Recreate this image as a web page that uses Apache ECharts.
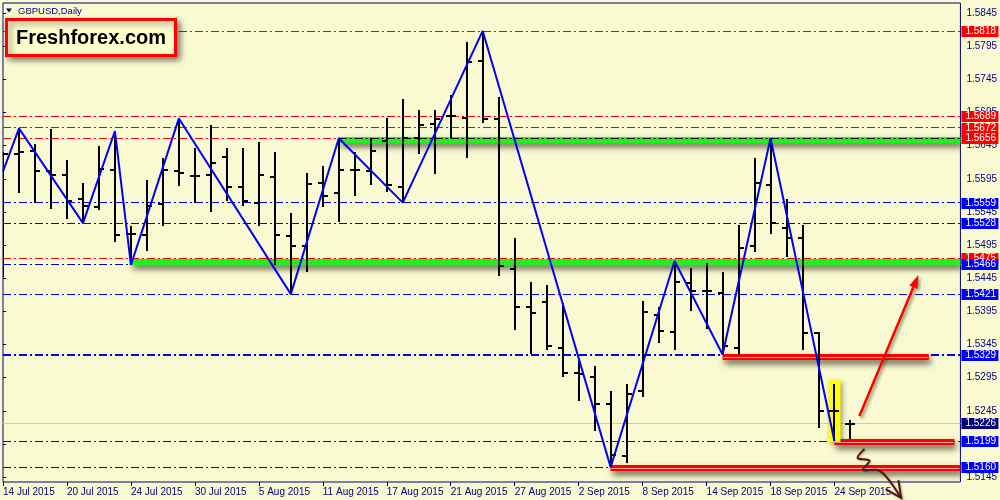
<!DOCTYPE html>
<html>
<head>
<meta charset="utf-8">
<script src="https://cdn.jsdelivr.net/npm/echarts/dist/echarts.min.js"></script>
<style>
html,body{margin:0;padding:0;background:#FAFAD2;}
#chart{width:1000px;height:500px;}
</style>
</head>
<body>
<div id="chart"></div>
<script>
// ---------- data ----------
const dates = ['14 Jul 2015','15 Jul 2015','16 Jul 2015','17 Jul 2015','20 Jul 2015','21 Jul 2015','22 Jul 2015','23 Jul 2015','24 Jul 2015','27 Jul 2015','28 Jul 2015','29 Jul 2015','30 Jul 2015','31 Jul 2015',
 '3 Aug 2015','4 Aug 2015','5 Aug 2015','6 Aug 2015','7 Aug 2015','10 Aug 2015','11 Aug 2015','12 Aug 2015','13 Aug 2015','14 Aug 2015','17 Aug 2015','18 Aug 2015','19 Aug 2015','20 Aug 2015','21 Aug 2015','24 Aug 2015','25 Aug 2015','26 Aug 2015','27 Aug 2015','28 Aug 2015','31 Aug 2015',
 '1 Sep 2015','2 Sep 2015','3 Sep 2015','4 Sep 2015','7 Sep 2015','8 Sep 2015','9 Sep 2015','10 Sep 2015','11 Sep 2015','14 Sep 2015','15 Sep 2015','16 Sep 2015','17 Sep 2015','18 Sep 2015','21 Sep 2015','22 Sep 2015','23 Sep 2015','24 Sep 2015','25 Sep 2015'];
const opens  = [1.5510,1.5633,1.5637,1.5607,1.5601,1.5564,1.5552,1.5608,1.5512,1.5510,1.5557,1.5606,1.5599,1.5601,1.5628,1.5583,1.5559,1.5597,1.5508,1.5494,1.5589,1.5574,1.5608,1.5607,1.5652,1.5583,1.5656,1.5678,1.5689,1.5687,1.5772,1.5685,1.5459,1.5401,1.5409,1.5340,1.5302,1.5296,1.5255,1.5177,1.5275,1.5390,1.5364,1.5438,1.5426,1.5423,1.5339,1.5494,1.5585,1.5521,1.5506,1.5363,1.5244,1.5225];
const highs  = [1.5636,1.5671,1.5647,1.5670,1.5624,1.5588,1.5644,1.5667,1.5523,1.5593,1.5626,1.5686,1.5641,1.5676,1.5642,1.5641,1.5650,1.5635,1.5543,1.5603,1.5614,1.5656,1.5635,1.5657,1.5687,1.5715,1.5699,1.5699,1.5721,1.5801,1.5818,1.5719,1.5505,1.5440,1.5434,1.5407,1.5323,1.5312,1.5275,1.5285,1.5410,1.5402,1.5471,1.5460,1.5468,1.5454,1.5525,1.5626,1.5656,1.5564,1.5526,1.5364,1.5286,1.5231];
const lows   = [1.5447,1.5574,1.5558,1.5550,1.5535,1.5528,1.5548,1.5499,1.5465,1.5486,1.5524,1.5584,1.5558,1.5545,1.5562,1.5554,1.5523,1.5465,1.5421,1.5455,1.5552,1.5530,1.5569,1.5586,1.5575,1.5559,1.5632,1.5602,1.5656,1.5627,1.5679,1.5449,1.5367,1.5331,1.5337,1.5296,1.5260,1.5215,1.5160,1.5167,1.5266,1.5347,1.5337,1.5396,1.5369,1.5330,1.5329,1.5484,1.5511,1.5477,1.5337,1.5219,1.5199,1.5202];
const closes = [1.5633,1.5636,1.5607,1.5601,1.5562,1.5554,1.5610,1.5510,1.5512,1.5554,1.5608,1.5604,1.5599,1.5619,1.5582,1.5562,1.5600,1.5510,1.5493,1.5587,1.5569,1.5608,1.5608,1.5637,1.5585,1.5656,1.5676,1.5685,1.5689,1.5771,1.5685,1.5464,1.5401,1.5392,1.5343,1.5302,1.5300,1.5255,1.5178,1.5270,1.5394,1.5366,1.5440,1.5426,1.5426,1.5342,1.5490,1.5588,1.5529,1.5505,1.5363,1.5244,1.5244,1.5225];

// zigzag pivots [bar index, price]
const zigzag = [[0,1.5606],[1,1.5671],[5,1.5528],[7,1.5667],[8,1.5465],[11,1.5686],[18,1.5421],[21,1.5656],[25,1.5559],[30,1.5818],[38,1.5160],[42,1.5471],[45,1.5330],[48,1.5656],[52,1.5199]];

// horizontal levels
const redLevels   = [1.5818, 1.5689, 1.5672, 1.5656, 1.5475];
const blueLevels  = [1.5559, 1.5528, 1.5466, 1.5421, 1.5199, 1.5160];
const strongLevel = [1.5329];
const currentPrice = [1.5226];

// zones: [start index, end index (null = right edge), price]
const greenZones = [[21, null, 1.5654], [8, null, 1.5469]];
const redZones   = [[45, 57.9, 1.5326], [52, 59.5, 1.5198], [38, null, 1.5158]];
const highlightBar = [[52, 1.5199, 1.5291]];

// hand-drawn arrows in [bar index, price]
const trendArrow = [[53.56, 1.5237], [57.25, 1.5450]];
const breakArrow = [[53.875,1.51874],[53.44,1.51738],[54.19,1.51697],[53.77,1.51557],[54.69,1.51557],[55.31,1.51436],[56.17,1.51135]];

const xTicks = [0,4,8,12,16,20,24,28,32,36,40,44,48,52];
const yTicks = [1.5145,1.5195,1.5245,1.5295,1.5345,1.5395,1.5445,1.5495,1.5545,1.5595,1.5645,1.5695,1.5745,1.5795,1.5845];

// ---------- styles ----------
const BG = '#FAFAD2', NAVY = '#000080', FONT = '"Liberation Sans", Arial, sans-serif';
const DASHDOT = [8,3,2,3];

const chart = echarts.init(document.getElementById('chart'), null, {renderer:'canvas'});

const bars = opens.map((o,i)=>[i,o,highs[i],lows[i],closes[i]]);

function levelMarks(levels, color, width){
  return levels.map(p=>({yAxis:p, lineStyle:{color:color, width:width, type:DASHDOT}}));
}

// price tags on the right
const tagList = [];
redLevels.forEach(p=>tagList.push([0,p,'#FF0000']));
blueLevels.forEach(p=>tagList.push([0,p,'#0000FF']));
strongLevel.forEach(p=>tagList.push([0,p,'#0000FF']));
currentPrice.forEach(p=>tagList.push([0,p,NAVY]));

function zoneSeries(zones, fill, inner, z){
  return {
    type:'custom', z:z, clip:true, silent:true,
    data: zones.map(zn=>[zn[0], zn[1]===null ? -1 : zn[1], zn[2]]),
    encode:{x:0,y:2},
    renderItem(params, api){
      const cs = params.coordSys;
      const a = api.coord([api.value(0), api.value(2)]);
      const endIdx = api.value(1);
      const x2 = endIdx < 0 ? cs.x+cs.width : api.coord([endIdx, api.value(2)])[0];
      const y = Math.round(a[1]);
      const ch = [{type:'rect', shape:{x:a[0], y:y-3, width:x2-a[0], height:6},
        style:{fill:fill, shadowBlur:6, shadowColor:'rgba(40,40,20,0.75)', shadowOffsetX:2, shadowOffsetY:4}}];
      if (inner) ch.push({type:'line', shape:{x1:a[0]+1, y1:y+0.5, x2:x2-1, y2:y+0.5}, style:{stroke:inner, lineWidth:1}});
      return {type:'group', children:ch};
    }
  };
}

function arrowHead(tip, from, len, ang){
  const dx = from[0]-tip[0], dy = from[1]-tip[1];
  const d = Math.hypot(dx,dy); const ux = dx/d, uy = dy/d;
  const rot = (t)=>[tip[0]+len*(ux*Math.cos(t)-uy*Math.sin(t)), tip[1]+len*(ux*Math.sin(t)+uy*Math.cos(t))];
  return [rot(ang), rot(-ang)];
}

const option = {
  backgroundColor: BG,
  animation:false,
  grid:{left:3, right:39, top:3, bottom:18, show:true, borderColor:NAVY, borderWidth:1, backgroundColor:BG},
  xAxis:{
    type:'value', min:0, max:59.875,
    axisLine:{show:false}, splitLine:{show:false},
    axisTick:{show:true, length:4, lineStyle:{color:NAVY}, customValues:xTicks},
    axisLabel:{customValues:xTicks, align:'left', margin:5, color:NAVY, fontFamily:FONT, fontSize:10,
      formatter:(v)=> dates[v] !== undefined ? dates[v] : ''}
  },
  yAxis:{
    type:'value', position:'right', min:1.51376, max:1.58601, scale:true,
    axisLine:{show:false}, splitLine:{show:false},
    axisTick:{show:true, length:3, lineStyle:{color:NAVY}, customValues:yTicks},
    axisLabel:{customValues:yTicks, margin:6, color:NAVY, fontFamily:FONT, fontSize:10,
      formatter:(v)=>v.toFixed(4)}
  },
  graphic:[
    {type:'polygon', shape:{points:[[6,8.5],[12,8.5],[9,12.5]]}, style:{fill:NAVY}, z:100},
    {type:'text', x:18, y:11, style:{text:'GBPUSD,Daily', fill:NAVY, font:'9.5px '+FONT, verticalAlign:'middle'}, z:100},
    {type:'rect', shape:{x:6.5, y:19.5, width:169, height:36}, z:100,
      style:{fill:'#FFFFCC', stroke:'#FF0000', lineWidth:3, shadowBlur:6, shadowColor:'rgba(0,0,0,0.45)', shadowOffsetX:3, shadowOffsetY:3}},
    {type:'text', x:91, y:38, z:101, style:{text:'Freshforex.com', fill:'#000', font:'bold 20px '+FONT, align:'center', verticalAlign:'middle'}}
  ],
  series:[
    {
      type:'line', data:[], z:1, silent:true,
      markLine:{
        silent:true, symbol:'none', animation:false, label:{show:false}, precision:6, z:1,
        data:[].concat(
          currentPrice.map(p=>({yAxis:p, lineStyle:{color:'#C8C8C8', width:1, type:'solid'}})),
          levelMarks(redLevels, '#FF0000', 1),
          levelMarks(blueLevels, '#0000FF', 1),
          levelMarks(strongLevel, '#0000FF', 2)
        )
      }
    },
    zoneSeries(greenZones, '#22EE22', null, 3),
    zoneSeries(redZones, '#FF0000', '#FFA0A0', 3),
    {
      type:'custom', z:3, clip:true, silent:true,
      data: greenZones.slice(0,1).map(zn=>[zn[0], zn[2]]), encode:{x:0,y:1},
      renderItem(params, api){
        const cs = params.coordSys;
        const a = api.coord([api.value(0), redLevels[3]]);
        const y = Math.round(a[1]) + 0.5;
        return {type:'line', shape:{x1:a[0], y1:y, x2:cs.x+cs.width, y2:y}, style:{stroke:'#000', lineWidth:1, lineDash:DASHDOT}};
      }
    },
    {
      type:'custom', z:3, clip:true, silent:true,
      data: highlightBar, encode:{x:0,y:[1,2]},
      renderItem(params, api){
        const lo = api.coord([api.value(0), api.value(1)]);
        const hi = api.coord([api.value(0), api.value(2)]);
        return {type:'rect', shape:{x:lo[0]-6, y:hi[1], width:12, height:lo[1]-hi[1]+1},
          style:{fill:'#FFFF00', shadowBlur:5, shadowColor:'rgba(60,60,30,0.5)', shadowOffsetX:2, shadowOffsetY:2}};
      }
    },
    {
      type:'custom', name:'GBPUSD', z:4, clip:true, silent:true,
      data: bars, encode:{x:0, y:[1,2,3,4]},
      renderItem(params, api){
        const i = api.value(0);
        const o = api.coord([i, api.value(1)]);
        const h = api.coord([i, api.value(2)]);
        const l = api.coord([i, api.value(3)]);
        const c = api.coord([i, api.value(4)]);
        const x = Math.round(o[0]);
        const st = {stroke:'#000', lineWidth:2};
        const oy = Math.round(o[1]), cy = Math.round(c[1]);
        return {type:'group', children:[
          {type:'line', shape:{x1:x, y1:Math.round(h[1]), x2:x, y2:Math.round(l[1])}, style:st},
          {type:'line', shape:{x1:x-5, y1:oy, x2:x, y2:oy}, style:st},
          {type:'line', shape:{x1:x, y1:cy, x2:x+5, y2:cy}, style:st}
        ]};
      }
    },
    {
      type:'line', z:5, data:zigzag, symbol:'none', clip:true, silent:true,
      lineStyle:{color:'#0000FF', width:2}
    },
    {
      type:'custom', z:6, clip:false, silent:true, data:[trendArrow[0]], encode:{x:0,y:1},
      renderItem(params, api){
        const a = api.coord(trendArrow[0]), b = api.coord(trendArrow[1]);
        const hd = arrowHead(b, a, 14, 0.32);
        const sh = {shadowBlur:3, shadowColor:'rgba(60,60,30,0.55)', shadowOffsetX:2, shadowOffsetY:2};
        return {type:'group', children:[
          {type:'line', shape:{x1:a[0], y1:a[1], x2:(hd[0][0]+hd[1][0])/2, y2:(hd[0][1]+hd[1][1])/2}, style:Object.assign({stroke:'#FF0000', lineWidth:2.5}, sh)},
          {type:'polygon', shape:{points:[b, hd[0], hd[1]]}, style:Object.assign({fill:'#FF0000'}, sh)}
        ]};
      }
    },
    {
      type:'custom', z:6, clip:false, silent:true, data:[breakArrow[0]], encode:{x:0,y:1},
      renderItem(params, api){
        const pts = breakArrow.map(p=>api.coord(p));
        const tip = pts[pts.length-1];
        const hd = arrowHead(tip, pts[pts.length-2], 18, 0.45);
        const st = {stroke:'#5A1414', lineWidth:2, fill:null, shadowBlur:2, shadowColor:'rgba(60,60,30,0.4)', shadowOffsetX:1, shadowOffsetY:1};
        return {type:'group', children:[
          {type:'polyline', shape:{points:pts, smooth:0.3}, style:st},
          {type:'polyline', shape:{points:[hd[0], tip, hd[1]]}, style:st}
        ]};
      }
    },
    {
      type:'custom', z:8, clip:false, silent:true, data:tagList, encode:{x:0,y:1},
      renderItem(params, api){
        const cs = params.coordSys;
        const p = api.value(1);
        const y = api.coord([0, p])[1];
        const color = tagList[params.dataIndex][2];
        const x = cs.x + cs.width + 1;
        return {type:'group', children:[
          {type:'rect', shape:{x:x, y:Math.round(y)-5, width:37, height:11}, style:{fill:color}},
          {type:'text', x:x+4, y:Math.round(y)+0.5, style:{text:p.toFixed(4), fill:'#FFFFFF', font:'10px '+FONT, verticalAlign:'middle'}}
        ]};
      }
    }
  ]
};
chart.setOption(option);
</script>
</body>
</html>
